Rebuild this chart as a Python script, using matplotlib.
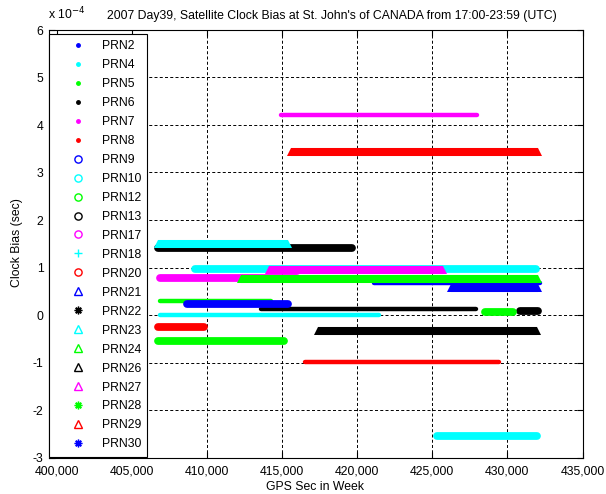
"""Satellite clock bias at St. John's (CANADA), 2007 day 39, 17:00-23:59 UTC."""

import matplotlib

matplotlib.use("Agg")
import matplotlib.pyplot as plt
from matplotlib.lines import Line2D
from matplotlib.ticker import FuncFormatter, MultipleLocator

# PRN order is also the plotting order (later PRNs end up on top)
PRNS = [2, 4, 5, 6, 7, 8, 9, 10, 12, 13, 17, 18, 20, 21, 22, 23, 24, 26, 27, 28, 29, 30]
# MATLAB-style colour + marker for each PRN
FMTS = ["b.", "c.", "g.", "k.", "m.", "r.",
        "bo", "co", "go", "ko", "mo", "c+", "ro",
        "b^", "k*", "c^", "g^", "k^", "m^", "g*", "r^", "b*"]

# first / last epoch of each arc, GPS sec of week (None = nothing in window)
T_START = [421150, 406860, 406860, 413570, 414900, 416500, None, 409210,
           406770, 406770, 406840, 425310, 406770, 426240, 430830, 406770,
           412290, 417400, 414150, 428500, 415610, 408700]
T_END = [432140, 421445, 414270, 427890, 427960, 429420, None, 431900,
         415150, 419670, 416000, 431970, 409770, 432030, 432030, 415420,
         432030, 431970, 425720, 430370, 432030, 415420]
# clock bias in units of 1e-4 s
BIAS = [0.68, 0.00, 0.29, 0.13, 4.21, -0.985, None, 0.97,
        -0.54, 1.41, 0.785, -2.55, -0.25, 0.57, 0.08, 1.49,
        0.76, -0.34, 0.95, 0.057, 3.43, 0.225]

COLORS = {"b": "#0000ff", "c": "#00ffff", "g": "#00ff00",
          "k": "#000000", "m": "#ff00ff", "r": "#ff0000"}

TITLE = "2007 Day39, Satellite Clock Bias at St. John's of CANADA from 17:00-23:59 (UTC)"


def draw_arc(ax, t0, t1, b, color, mk):
    # dense 30 s markers in the original merge into a solid band
    if mk == ".":
        ax.plot([t0, t1], [b, b], color=color, lw=3.2, solid_capstyle="round")
    elif mk == "^":
        ax.plot([t0, t1], [b, b], color=color, lw=5.8, solid_capstyle="butt",
                marker="^", ms=5.8, mew=0)
    else:
        ax.plot([t0, t1], [b, b], color=color, lw=5.6, solid_capstyle="round")


def legend_handle(color, mk):
    if mk == ".":
        return Line2D([], [], ls="none", marker=".", ms=5, color=color)
    if mk == "+":
        return Line2D([], [], ls="none", marker="+", ms=5.5, mew=1, color=color)
    if mk == "*":
        return Line2D([], [], ls="none", marker=(8, 2, 0), ms=5.5, mew=1, color=color)
    return Line2D([], [], ls="none", marker=mk, ms=5.2, mew=1, color=color,
                  mfc="none")


def main():
    plt.rcParams["font.family"] = ["Liberation Sans", "DejaVu Sans"]
    plt.rcParams["font.size"] = 8.8
    plt.rcParams["axes.unicode_minus"] = False

    W, H = 606, 494
    fig = plt.figure(figsize=(W / 100, H / 100), dpi=100)
    ax = fig.add_axes([49 / W, 1 - 457.5 / H, 533.5 / W, 427.5 / H])

    handles = []
    for prn, fmt, t0, t1, b in zip(PRNS, FMTS, T_START, T_END, BIAS):
        color, mk = COLORS[fmt[0]], fmt[1]
        if t0 is not None:
            draw_arc(ax, t0, t1, b, color, mk)
        handles.append(legend_handle(color, mk))

    ax.set_xlim(399480, 435000)
    ax.set_ylim(-3, 6)
    ax.xaxis.set_major_locator(MultipleLocator(5000))
    ax.xaxis.set_major_formatter(FuncFormatter(lambda v, p: f"{v:,.0f}"))
    ax.yaxis.set_major_locator(MultipleLocator(1))
    ax.yaxis.set_major_formatter(FuncFormatter(lambda v, p: f"{v:g}"))
    ax.tick_params(direction="in", length=4, width=0.8, top=True, right=True)
    ax.tick_params(axis="x", pad=5.5)
    ax.tick_params(axis="y", pad=4)
    for sp in ax.spines.values():
        sp.set_linewidth(0.8)
    ax.grid(True, color="k", lw=0.7, ls=(0, (3.1, 2.3)))
    ax.set_axisbelow(True)

    leg = ax.legend(handles, [f"PRN{p}" for p in PRNS], loc="upper left",
                    bbox_to_anchor=(0, (457.5 - 34) / 427.5), borderaxespad=0,
                    fancybox=False, framealpha=1, edgecolor="k",
                    handlelength=3.7, handletextpad=0.1, borderpad=0.5,
                    labelspacing=0.57)
    leg.get_frame().set_linewidth(0.8)

    fig.text(331.5 / W, 1 - 19 / H, TITLE, ha="center", va="baseline")
    fig.text(48 / W, 1 - 19 / H, r"x 10$^{-4}$", ha="left", va="baseline")
    fig.text(17 / W, 1 - 243 / H, "Clock Bias (sec)", rotation=90,
             ha="center", va="center")
    fig.text(315 / W, 1 - 487 / H, "GPS Sec in Week", ha="center", va="center")

    fig.savefig("out.png", dpi=100)
    plt.close(fig)


if __name__ == "__main__":
    main()
